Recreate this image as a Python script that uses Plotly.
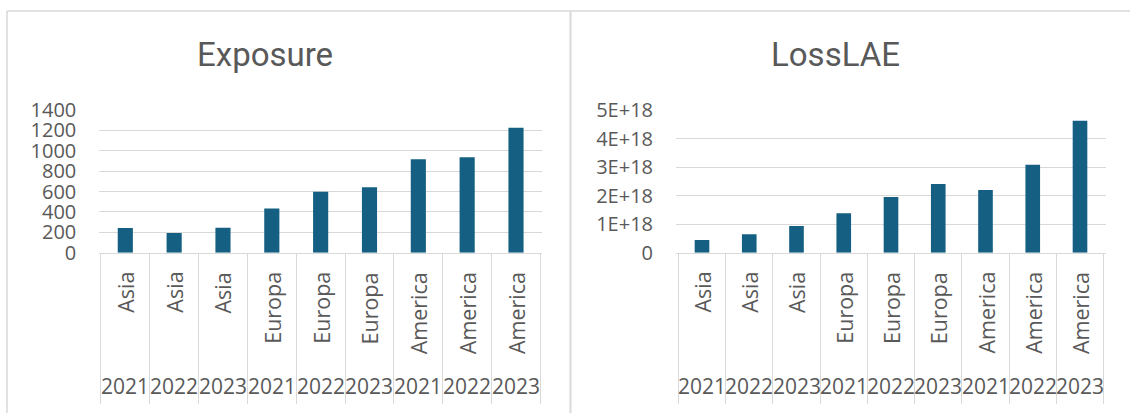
import plotly.graph_objects as go

# Data: one bar per region/year pair
regions = ["Asia", "Asia", "Asia", "Europa", "Europa", "Europa", "America", "America", "America"]
years = ["2021", "2022", "2023", "2021", "2022", "2023", "2021", "2022", "2023"]
exposure = [242, 193, 245, 434, 598, 643, 918, 937, 1225]
loss_lae = [0.445e18, 0.645e18, 0.935e18, 1.38e18, 1.95e18, 2.41e18, 2.20e18, 3.08e18, 4.62e18]

exposure_ticks = [0, 200, 400, 600, 800, 1000, 1200, 1400]
loss_tickvals = [0, 1e18, 2e18, 3e18, 4e18, 5e18]
loss_ticktext = ["0", "1E+18", "2E+18", "3E+18", "4E+18", "5E+18"]

W, H = 1130, 413
BAR = "#156082"
TEXT = "#595959"
GRID = "#D9D9D9"
FONT = "Open Sans"
TITLE_FONT = "Roboto"


def py(px):
    """Pixel row -> paper y."""
    return 1 - px / H


def pxx(px):
    """Pixel column -> paper x."""
    return px / W


keys = [f"{r} {y}" for r, y in zip(regions, years)]

fig = go.Figure()
fig.add_trace(go.Bar(x=keys, y=exposure, marker_color=BAR, xaxis="x", yaxis="y",
                     marker_line_width=0))
fig.add_trace(go.Bar(x=keys, y=loss_lae, marker_color=BAR, xaxis="x2", yaxis="y2",
                     marker_line_width=0))

y_dom = [py(252.7), py(110)]
xaxis_common = dict(
    type="category", showticklabels=False, showgrid=False,
    showline=True, linecolor=GRID, linewidth=1,
    ticks="outside", tickson="boundaries", ticklen=150, tickcolor=GRID, tickwidth=1,
    fixedrange=True, automargin=False,
)
yaxis_common = dict(
    showgrid=True, gridcolor=GRID, gridwidth=1, zeroline=False, showline=False,
    tickfont=dict(family=FONT, size=20, color=TEXT), ticklabelstandoff=22,
    fixedrange=True, automargin=False,
)

fig.update_layout(
    width=W, height=H, autosize=False,
    margin=dict(l=0, r=0, t=0, b=0, pad=0),
    paper_bgcolor="white", plot_bgcolor="white",
    showlegend=False, bargap=0.69,
    xaxis=dict(domain=[pxx(99.3), pxx(542)], anchor="y", **xaxis_common),
    xaxis2=dict(domain=[pxx(676), pxx(1106)], anchor="y2", **xaxis_common),
    yaxis=dict(domain=y_dom, anchor="x", range=[0, 1400], tickvals=exposure_ticks,
               **yaxis_common),
    yaxis2=dict(domain=y_dom, anchor="x2", range=[0, 5e18], tickvals=loss_tickvals,
                ticktext=loss_ticktext, **yaxis_common),
)

annotations = []
for xref in ("x", "x2"):
    for k, r, y in zip(keys, regions, years):
        annotations.append(dict(
            x=k, xref=xref, y=py(270), yref="paper", text=r, textangle=-90,
            showarrow=False, xanchor="center", yanchor="top",
            font=dict(family=FONT, size=21.5, color=TEXT),
        ))
        annotations.append(dict(
            x=k, xref=xref, y=py(386), yref="paper", text=y,
            showarrow=False, xanchor="center", yanchor="middle",
            font=dict(family=FONT, size=21, color=TEXT),
        ))

# Chart titles
for label, cx in (("Exposure", 265), ("LossLAE", 835)):
    annotations.append(dict(
        x=pxx(cx), xref="paper", y=py(54), yref="paper", text=label,
        showarrow=False, xanchor="center", yanchor="middle",
        font=dict(family=TITLE_FONT, size=33, color=TEXT),
    ))
fig.update_layout(annotations=annotations)

# Chart-area frames
frame = dict(color=GRID, width=1.5)
fig.add_shape(type="line", xref="paper", yref="paper", x0=pxx(7), x1=1, y0=py(11), y1=py(11), line=frame)
fig.add_shape(type="line", xref="paper", yref="paper", x0=pxx(7), x1=pxx(7), y0=py(11), y1=0, line=frame)
fig.add_shape(type="line", xref="paper", yref="paper", x0=pxx(570.5), x1=pxx(570.5), y0=py(11), y1=0,
              line=dict(color=GRID, width=2))

# Page without the default body margin so the figure sits flush in the window
fig.write_html(
    "out.html",
    post_script="document.body.style.margin='0';document.body.style.overflow='hidden';",
)
